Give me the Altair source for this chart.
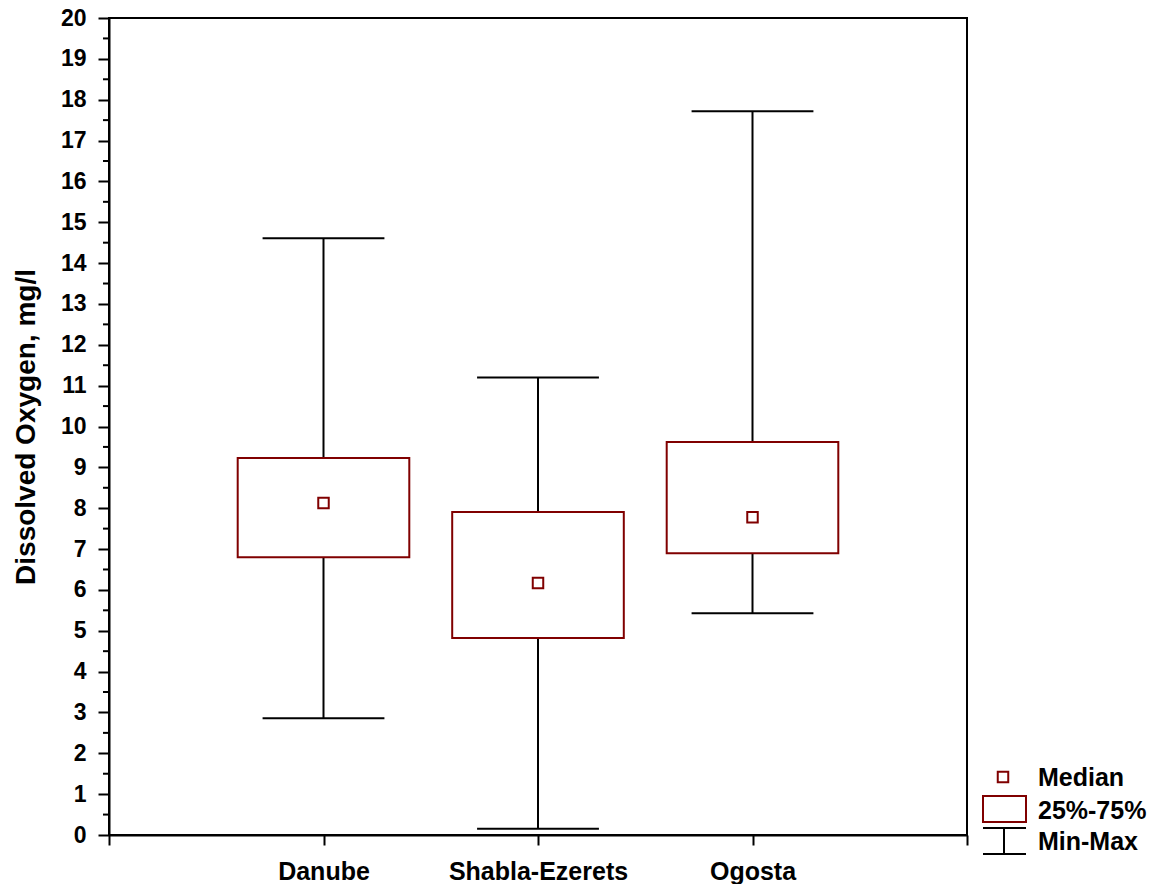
import altair as alt
import pandas as pd

categories = ["Danube", "Shabla-Ezerets", "Ogosta"]
positions = [1, 2, 3]
mins = [2.86, 0.15, 5.43]
q1s = [6.80, 4.82, 6.90]
medians = [8.13, 6.17, 7.78]
q3s = [9.23, 7.91, 9.62]
maxs = [14.61, 11.20, 17.72]

y_ticks = list(range(0, 21))
y_minor = [v + 0.5 for v in range(0, 20)]
x_ticks = [0, 1, 2, 3, 4]

legend_labels = ["Median", "25%-75%", "Min-Max"]

RED = "#800000"
FONT = "Liberation Sans"
W, H = 858, 817

df = pd.DataFrame({
    "cat": categories, "pos": positions, "mn": mins, "q1": q1s,
    "med": medians, "q3": q3s, "mx": maxs,
})

xscale = alt.Scale(domain=[0, 4], nice=False, zero=False)
yscale = alt.Scale(domain=[0, 20], nice=False)

label_expr = " : ".join(
    [f"datum.value == {p} ? '{c}'" for p, c in zip(positions, categories)]
) + " : ''"

xaxis = alt.Axis(values=x_ticks, labelExpr=label_expr, title=None, grid=False,
                 tickSize=10, tickWidth=2, domainWidth=2, domainColor="black",
                 tickColor="black", labelFont=FONT, labelFontWeight="bold",
                 labelFontSize=25, labelColor="black", labelPadding=14)
yaxis = alt.Axis(values=y_ticks, title="Dissolved Oxygen, mg/l", grid=False,
                 tickSize=11, tickWidth=2, domainWidth=2, domainColor="black",
                 tickColor="black", labelFont=FONT, labelFontWeight="bold",
                 labelFontSize=23, labelColor="black", labelPadding=12,
                 titleFont=FONT, titleFontWeight="bold", titleFontSize=28,
                 titleColor="black", titleX=-69, titleBaseline="bottom")

base = alt.Chart(df)

whisk_low = base.mark_rule(color="black", strokeWidth=2).encode(
    x=alt.X("pos:Q", scale=xscale, axis=xaxis),
    y=alt.Y("mn:Q", scale=yscale, axis=yaxis),
    y2="q1:Q",
)
whisk_high = base.mark_rule(color="black", strokeWidth=2).encode(
    x="pos:Q", y="q3:Q", y2="mx:Q",
)
caps_cal = base.transform_calculate(xl="datum.pos - 0.284", xr="datum.pos + 0.284")
cap_low = caps_cal.mark_rule(color="black", strokeWidth=2).encode(
    x="xl:Q", x2="xr:Q", y="mn:Q")
cap_high = caps_cal.mark_rule(color="black", strokeWidth=2).encode(
    x="xl:Q", x2="xr:Q", y="mx:Q")
box = base.transform_calculate(bl="datum.pos - 0.4", br="datum.pos + 0.4").mark_rect(
    fill="white", stroke=RED, strokeWidth=2).encode(
    x="bl:Q", x2="br:Q", y="q1:Q", y2="q3:Q")
med = base.mark_square(size=110, fill="white", stroke=RED, strokeWidth=2, opacity=1).encode(
    x="pos:Q", y="med:Q")

minor = alt.Chart(pd.DataFrame({"v": y_minor})).mark_rule(color="black", strokeWidth=2).encode(
    y="v:Q", x=alt.value(-6), x2=alt.value(0))

# legend
lg_text = alt.layer(*[
    alt.Chart(pd.DataFrame({"label": [t]})).mark_text(
        align="left", baseline="alphabetic", font=FONT, fontWeight="bold",
        fontSize=25, color="black").encode(x=alt.value(929), y=alt.value(yb), text="label:N")
    for t, yb in zip(legend_labels, [768, 801, 832])
])
one = pd.DataFrame({"a": [0]})
lg_med = alt.Chart(one).mark_square(size=110, fill="white", stroke=RED, strokeWidth=2,
                                    opacity=1).encode(
    x=alt.value(894), y=alt.value(759))
lg_box = alt.Chart(one).mark_rect(fill="white", stroke=RED, strokeWidth=2).encode(
    x=alt.value(874), x2=alt.value(917), y=alt.value(778), y2=alt.value(804))
lg_c1 = alt.Chart(one).mark_rule(color="black", strokeWidth=2).encode(
    x=alt.value(874), x2=alt.value(917), y=alt.value(810))
lg_c2 = alt.Chart(one).mark_rule(color="black", strokeWidth=2).encode(
    x=alt.value(874), x2=alt.value(917), y=alt.value(836))
lg_stem = alt.Chart(one).mark_rule(color="black", strokeWidth=2).encode(
    x=alt.value(895), y=alt.value(810), y2=alt.value(836))

chart = alt.layer(
    whisk_low, whisk_high, cap_low, cap_high, box, med, minor,
    lg_med, lg_box, lg_c1, lg_c2, lg_stem, lg_text,
).properties(
    width=W, height=H,
    autosize=alt.AutoSizeParams(type="none"),
    padding={"left": 101, "top": 10, "right": 183, "bottom": 49},
    background="white",
).configure_view(stroke="black", strokeWidth=2)

chart.save("out.html", embed_options={"renderer": "svg", "actions": False})
